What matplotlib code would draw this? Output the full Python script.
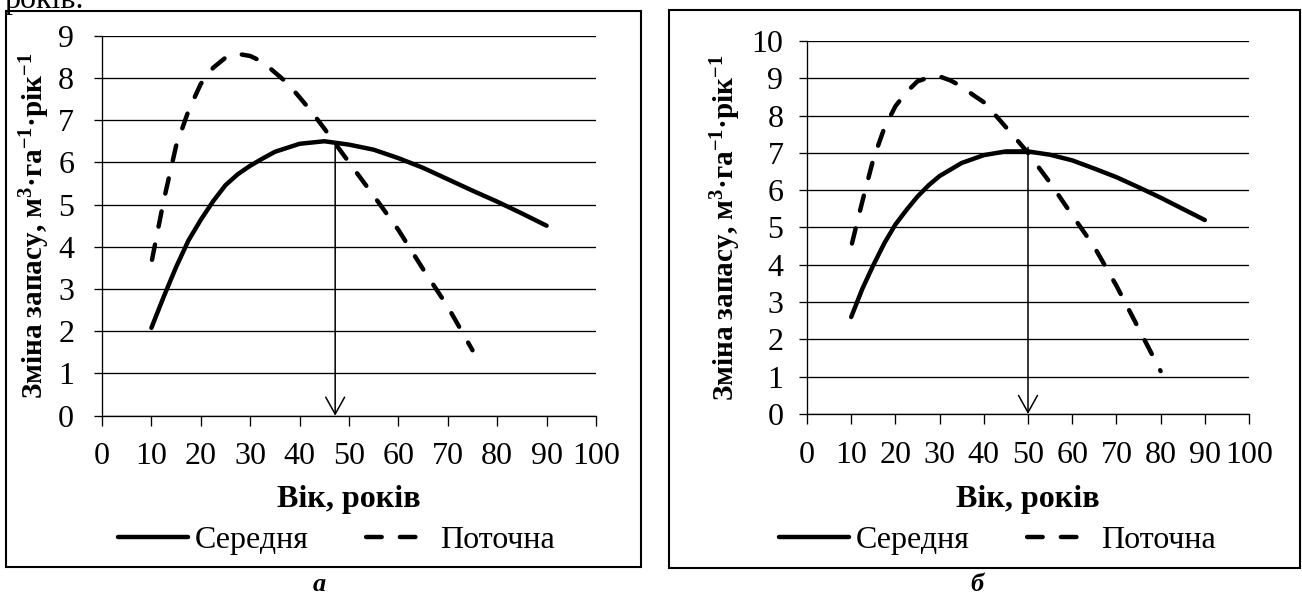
import numpy as np
import matplotlib.pyplot as plt
from matplotlib.patches import Rectangle

plt.rcParams['font.family'] = ['Liberation Serif', 'DejaVu Serif']
plt.rcParams['mathtext.fontset'] = 'custom'
plt.rcParams['mathtext.rm'] = 'Liberation Serif'
plt.rcParams['mathtext.bf'] = 'Liberation Serif:bold'
plt.rcParams['mathtext.it'] = 'Liberation Serif:italic'

# --- дані ---
# панель а
age_mean_a = [10, 12.5, 15, 17.5, 20, 22.5, 25, 27.5, 30, 32.5, 35, 40, 45, 50, 55, 60, 65, 70, 75, 80, 85, 90]
mean_a = [2.08, 2.82, 3.52, 4.15, 4.64, 5.08, 5.46, 5.72, 5.92, 6.09, 6.25, 6.44, 6.5, 6.42, 6.3, 6.1,
          5.87, 5.6, 5.33, 5.07, 4.79, 4.5]
age_cur_a = [10, 12.5, 15, 17.5, 20, 22.5, 25, 27.5, 30, 32.5, 35, 37.5, 40, 42.5, 45, 47.5, 50,
             55, 60, 65, 70, 75]
cur_a = [3.62, 5.1, 6.39, 7.22, 7.86, 8.24, 8.48, 8.57, 8.52, 8.38, 8.13, 7.88, 7.54, 7.19, 6.8, 6.4, 6.0,
         5.21, 4.4, 3.47, 2.58, 1.55]
# панель б
age_mean_b = [10, 12.5, 15, 17.5, 20, 22.5, 25, 27.5, 30, 35, 40, 45, 50, 55, 60, 65, 70, 75, 80, 85, 90]
mean_b = [2.6, 3.35, 3.99, 4.58, 5.08, 5.47, 5.83, 6.13, 6.38, 6.73, 6.94, 7.04, 7.04, 6.95, 6.8, 6.58,
          6.35, 6.08, 5.8, 5.5, 5.2]
age_cur_b = [10, 12.5, 15, 17.5, 20, 22.5, 25, 27.5, 30, 32.5, 35, 37.5, 40, 42.5, 45, 47.5, 50,
             55, 60, 65, 70, 75, 80]
cur_b = [4.49, 5.69, 6.83, 7.67, 8.25, 8.63, 8.92, 9.02, 9.05, 8.94, 8.78, 8.56, 8.36, 8.03, 7.69, 7.35, 7.0,
         6.2, 5.33, 4.48, 3.44, 2.3, 1.15]

# стрілки (вік кульмінації)
arrow_a = (47.2, 6.49)
arrow_b = (50.0, 7.15)

ylabel = 'Зміна запасу, м$^{\\mathbf{3}}$·га$^{\\mathbf{-1}}$·рік$^{\\mathbf{-1}}$'
FS = 23

W, H = 1302, 594
fig = plt.figure(figsize=(W / 100, H / 100), dpi=100)


def fbox(x0, y0, x1, y1):
    return [x0 / W, 1 - y1 / H, (x1 - x0) / W, (y1 - y0) / H]


def panel(rect, ages_m, vals_m, ages_c, vals_c, ymax, arrow, ylab_x, leg_cx, ypad):
    ax = fig.add_axes(fbox(*rect))
    ax.plot(ages_m, vals_m, color='black', lw=3.2, solid_capstyle='round', label='Середня')
    ax.plot(ages_c, vals_c, color='black', lw=3.2, ls=(6.9, (3.5, 4.1)),
            dash_capstyle='round', label='Поточна')
    ax.set_xlim(0, 100)
    ax.set_ylim(0, ymax)
    ax.set_xticks(range(0, 101, 10))
    ax.set_yticks(range(0, ymax + 1))
    ax.grid(axis='y', color='black', lw=0.95)
    for s in ['top', 'right']:
        ax.spines[s].set_visible(False)
    for s in ['left', 'bottom']:
        ax.spines[s].set_linewidth(0.95)
    ax.tick_params(axis='y', direction='out', length=6, width=0.95, labelsize=FS, pad=ypad)
    ax.tick_params(axis='x', direction='out', length=7.2, width=0.95, labelsize=FS, pad=12)

    ax.annotate('', xy=(arrow[0], 0), xytext=arrow,
                arrowprops=dict(arrowstyle='->,head_length=1.22,head_width=0.68',
                                lw=1.1, color='black', shrinkA=0, shrinkB=0,
                                mutation_scale=10))

    ax.set_xlabel('Вік, років', fontsize=FS, fontweight='bold')
    ax.xaxis.label.set_va('center')
    ax.xaxis.set_label_coords(0.5, (rect[3] - 500) / (rect[3] - rect[1]))
    ax.set_ylabel(ylabel, fontsize=21, fontweight='bold')
    ax.yaxis.set_label_coords((ylab_x - rect[0]) / (rect[2] - rect[0]), 0.5)

    ax.legend(ncol=2, loc='center', bbox_to_anchor=(leg_cx / W, 1 - 540 / H),
              bbox_transform=fig.transFigure, frameon=False, fontsize=FS,
              handlelength=2.19, handletextpad=0.22, columnspacing=1.7,
              borderaxespad=0, borderpad=0)
    return ax


panel((102, 35.7, 596, 415.7), age_mean_a, mean_a, age_cur_a, cur_a, 9, arrow_a, 52, 336, 14)
panel((807, 41, 1249, 414), age_mean_b, mean_b, age_cur_b, cur_b, 10, arrow_b, 743, 997, 11)

for x0, y0, x1, y1 in [(6, 11, 641, 567), (669, 10, 1300, 568)]:
    fig.add_artist(Rectangle((x0 / W, 1 - y1 / H), (x1 - x0) / W, (y1 - y0) / H,
                             transform=fig.transFigure, fill=False, lw=1.5, ec='black'))

fig.text(319 / W, 1 - 591 / H, 'а', fontsize=19, fontweight='bold', fontstyle='italic',
         ha='center', va='baseline')
fig.text(977 / W, 1 - 591 / H, 'б', fontsize=19, fontweight='bold', fontstyle='italic',
         ha='center', va='baseline')
fig.text(4 / W, 1 - 8 / H, 'років.', fontsize=FS, ha='left', va='baseline')

fig.savefig('out.png', dpi=100)
